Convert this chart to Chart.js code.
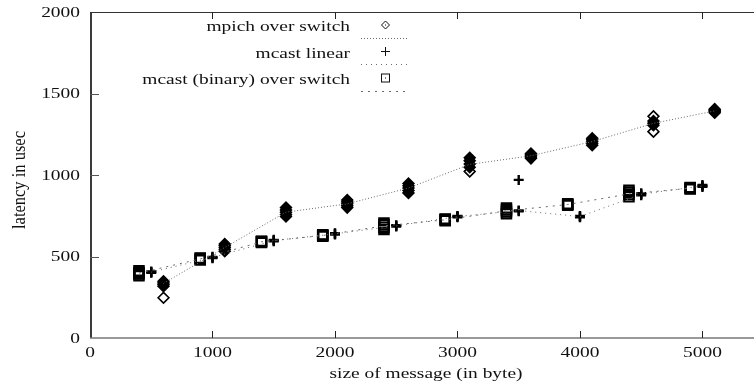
<!DOCTYPE html>
<html>
<head>
<meta charset="utf-8">
<script src="https://cdn.jsdelivr.net/npm/chart.js@4/dist/chart.umd.min.js"></script>
<style>
html,body{margin:0;padding:0;background:#fff;overflow:hidden;}
#wrap{width:754px;height:388px;}
</style>
</head>
<body>
<div id="wrap"><canvas id="c" width="754" height="388"></canvas></div>
<script>
// ---- data ----
const seriesNames = ["mpich over switch", "mcast linear", "mcast (binary) over switch"];
const xTicks = [0, 1000, 2000, 3000, 4000, 5000];
const yTicks = [0, 500, 1000, 1500, 2000];
const xTitle = "size of message (in byte)";
const yTitle = "latency in usec";

const mpichSizes = [600, 1100, 1600, 2100, 2600, 3100, 3600, 4100, 4600, 5100];
const mpichLine  = [335, 555, 772, 823, 920, 1065, 1118, 1205, 1317, 1393];
const mpichRuns  = [
  [318, 328, 338, 348, 247],
  [532, 544, 556, 567, 577],
  [745, 758, 772, 786, 800],
  [800, 812, 823, 835, 846],
  [890, 905, 920, 934, 948],
  [1022, 1048, 1067, 1088, 1106],
  [1102, 1110, 1118, 1125, 1132],
  [1183, 1195, 1207, 1217, 1225],
  [1266, 1305, 1318, 1331, 1360],
  [1382, 1389, 1394, 1399, 1404]
];

const linearSizes = [500, 1000, 1500, 2000, 2500, 3000, 3500, 4000, 4500, 5000];
const linearLine  = [404, 494, 598, 639, 688, 745, 782, 745, 882, 933];
const linearRuns  = [
  [400, 404, 408],
  [490, 494, 498],
  [594, 598, 602],
  [635, 639, 643],
  [684, 688, 692],
  [741, 745, 749],
  [778, 782, 970],
  [741, 745, 749],
  [876, 882, 888],
  [927, 933, 939]
];

const binarySizes = [400, 900, 1400, 1900, 2400, 2900, 3400, 3900, 4400, 4900];
const binaryLine  = [398, 485, 590, 629, 688, 725, 780, 819, 884, 919];
const binaryRuns  = [
  [382, 392, 402, 412],
  [478, 483, 488, 490],
  [586, 590, 592, 594],
  [624, 628, 631, 634],
  [666, 680, 694, 706],
  [720, 724, 727, 730],
  [762, 774, 786, 798],
  [814, 818, 820, 823],
  [866, 880, 894, 906],
  [914, 918, 920, 923]
];

// ---- build datasets ----
function linePts(xs, ys){ return xs.map((x,i)=>({x:x, y:ys[i]})); }
function runPts(xs, runs){ const out=[]; xs.forEach((x,i)=>runs[i].forEach(v=>out.push({x:x,y:v}))); return out; }

const LINE_COLOR = '#6a6a6a';
const dashes = [[1,2],[1,4],[2,5]];

const mpichPts = runPts(mpichSizes, mpichRuns);
// overlapping repeated runs merge into a solid blob; an isolated run stays an outline
function blobFill(c){
  const p = mpichPts[c.dataIndex];
  if (!p) return 'rgba(0,0,0,0)';
  const near = mpichPts.some((q,j)=> j!==c.dataIndex && q.x===p.x && Math.abs(q.y-p.y) < 20);
  return near ? '#000' : 'rgba(0,0,0,0)';
}

const datasets = [
  {label: seriesNames[0]+' line', data: linePts(mpichSizes, mpichLine), showLine:true, borderColor:LINE_COLOR, borderWidth:1, borderDash:dashes[0], pointRadius:0, fill:false},
  {label: seriesNames[1]+' line', data: linePts(linearSizes, linearLine), showLine:true, borderColor:LINE_COLOR, borderWidth:1, borderDash:dashes[1], pointRadius:0, fill:false},
  {label: seriesNames[2]+' line', data: linePts(binarySizes, binaryLine), showLine:true, borderColor:LINE_COLOR, borderWidth:1, borderDash:dashes[2], pointRadius:0, fill:false},
  {label: seriesNames[0], data: mpichPts, showLine:false, pointStyle:'rectRot', pointRadius:5.4, pointBorderWidth:1.6, borderColor:'#000', backgroundColor: blobFill, pointBackgroundColor: blobFill},
  {label: seriesNames[1], data: runPts(linearSizes, linearRuns), showLine:false, pointStyle:'cross', pointRadius:5, pointBorderWidth:2.4, borderColor:'#000', backgroundColor:'#000'},
  {label: seriesNames[2], data: runPts(binarySizes, binaryRuns), showLine:false, pointStyle:'rect', pointRadius:6.6, pointBorderWidth:2.2, borderColor:'#000', backgroundColor:'rgba(0,0,0,0)'}
];

const SX = 1.34;
const FONT = '14.5px "Liberation Serif", "DejaVu Serif", serif';
function sText(ctx, str, x, y, align, baseline){
  ctx.save();
  ctx.translate(x, y);
  ctx.scale(SX, 1);
  ctx.textAlign = align; ctx.textBaseline = baseline;
  ctx.fillText(str, 0, 0);
  ctx.restore();
}

const framePlugin = {
  id: 'frame',
  beforeDatasetsDraw(chart){
    const ctx = chart.ctx, a = chart.chartArea;
    const xs = chart.scales.x, ys = chart.scales.y;
    const W = chart.width;
    ctx.save();
    // border: left, top, bottom
    ctx.strokeStyle = '#3a3a3a'; ctx.lineWidth = 2;
    ctx.beginPath(); ctx.moveTo(a.left+1, a.top); ctx.lineTo(a.left+1, a.bottom); ctx.stroke();
    ctx.lineWidth = 1.2; ctx.strokeStyle = '#333';
    ctx.beginPath(); ctx.moveTo(a.left, a.top+0.5); ctx.lineTo(W, a.top+0.5); ctx.stroke();
    ctx.strokeStyle = '#777'; ctx.lineWidth = 1.6;
    ctx.beginPath(); ctx.moveTo(a.left, a.bottom); ctx.lineTo(W, a.bottom); ctx.stroke();
    // ticks
    ctx.strokeStyle = '#222'; ctx.lineWidth = 1;
    xTicks.forEach(v=>{
      const px = Math.round(xs.getPixelForValue(v))+0.5;
      if (v === 0) return;
      ctx.beginPath(); ctx.moveTo(px, a.bottom); ctx.lineTo(px, a.bottom-7); ctx.stroke();
      ctx.beginPath(); ctx.moveTo(px, a.top); ctx.lineTo(px, a.top+7); ctx.stroke();
    });
    ctx.strokeStyle = '#555';
    yTicks.forEach(v=>{
      const py = Math.round(ys.getPixelForValue(v))+0.5;
      if (v === 0 || v === 2000) return;
      ctx.beginPath(); ctx.moveTo(a.left, py); ctx.lineTo(a.left+9, py); ctx.stroke();
    });
    // tick labels
    ctx.fillStyle = '#111'; ctx.font = FONT;
    xTicks.forEach(v=>{ sText(ctx, String(v), xs.getPixelForValue(v), a.bottom+8, 'center', 'top'); });
    yTicks.forEach(v=>{ sText(ctx, String(v), a.left-10, ys.getPixelForValue(v)+1, 'right', 'middle'); });
    // axis titles
    sText(ctx, xTitle, 426, 378, 'center', 'alphabetic');
    ctx.save();
    ctx.translate(20, 180);
    ctx.rotate(-Math.PI/2);
    ctx.scale(1, 1.1);
    ctx.font = '16.5px "Liberation Serif", "DejaVu Serif", serif';
    ctx.textAlign = 'center'; ctx.textBaseline = 'middle';
    ctx.fillText(yTitle, 0, 0);
    ctx.restore();
    ctx.restore();
  },
  afterDraw(chart){
    const ctx = chart.ctx;
    ctx.save();
    ctx.fillStyle = '#111'; ctx.font = FONT;
    const textRight = 350, symX = 385.5;
    const baselines = [30.5, 57.5, 84];
    const symY = [25, 51.5, 78];
    const lineY = [38.5, 64.5, 91.5];
    seriesNames.forEach((n,i)=>{ sText(ctx, n, textRight, baselines[i], 'right', 'alphabetic'); });
    // symbols
    ctx.strokeStyle = '#111'; ctx.lineWidth = 1;
    ctx.beginPath(); ctx.moveTo(symX, symY[0]-4); ctx.lineTo(symX+4, symY[0]); ctx.lineTo(symX, symY[0]+4); ctx.lineTo(symX-4, symY[0]); ctx.closePath(); ctx.stroke();
    ctx.fillRect(symX-0.5, symY[0]-0.5, 1, 1);
    ctx.beginPath(); ctx.moveTo(symX-4.5, symY[1]); ctx.lineTo(symX+4.5, symY[1]); ctx.moveTo(symX, symY[1]-4.5); ctx.lineTo(symX, symY[1]+4.5); ctx.stroke();
    ctx.strokeRect(symX-4, symY[2]-4, 8, 8);
    ctx.fillRect(symX-0.5, symY[2]-0.5, 1, 1);
    ctx.strokeStyle = LINE_COLOR;
    lineY.forEach((y,i)=>{
      ctx.setLineDash(dashes[i]);
      ctx.beginPath(); ctx.moveTo(361, y); ctx.lineTo(409, y); ctx.stroke();
    });
    ctx.restore();
  }
};

new Chart(document.getElementById('c'), {
  type: 'scatter',
  data: { datasets: datasets },
  options: {
    responsive: false,
    animation: false,
    layout: { padding: { left: 90, right: 0, top: 12, bottom: 50 } },
    plugins: { legend: { display: false }, tooltip: { enabled: false } },
    scales: {
      x: { type: 'linear', min: 0, max: 5349, ticks: { display: false }, grid: { display: false, drawTicks: false }, border: { display: false }, title: { display: false } },
      y: { type: 'linear', min: 0, max: 2000, ticks: { display: false }, grid: { display: false, drawTicks: false }, border: { display: false }, title: { display: false } }
    }
  },
  plugins: [framePlugin]
});
</script>
</body>
</html>
